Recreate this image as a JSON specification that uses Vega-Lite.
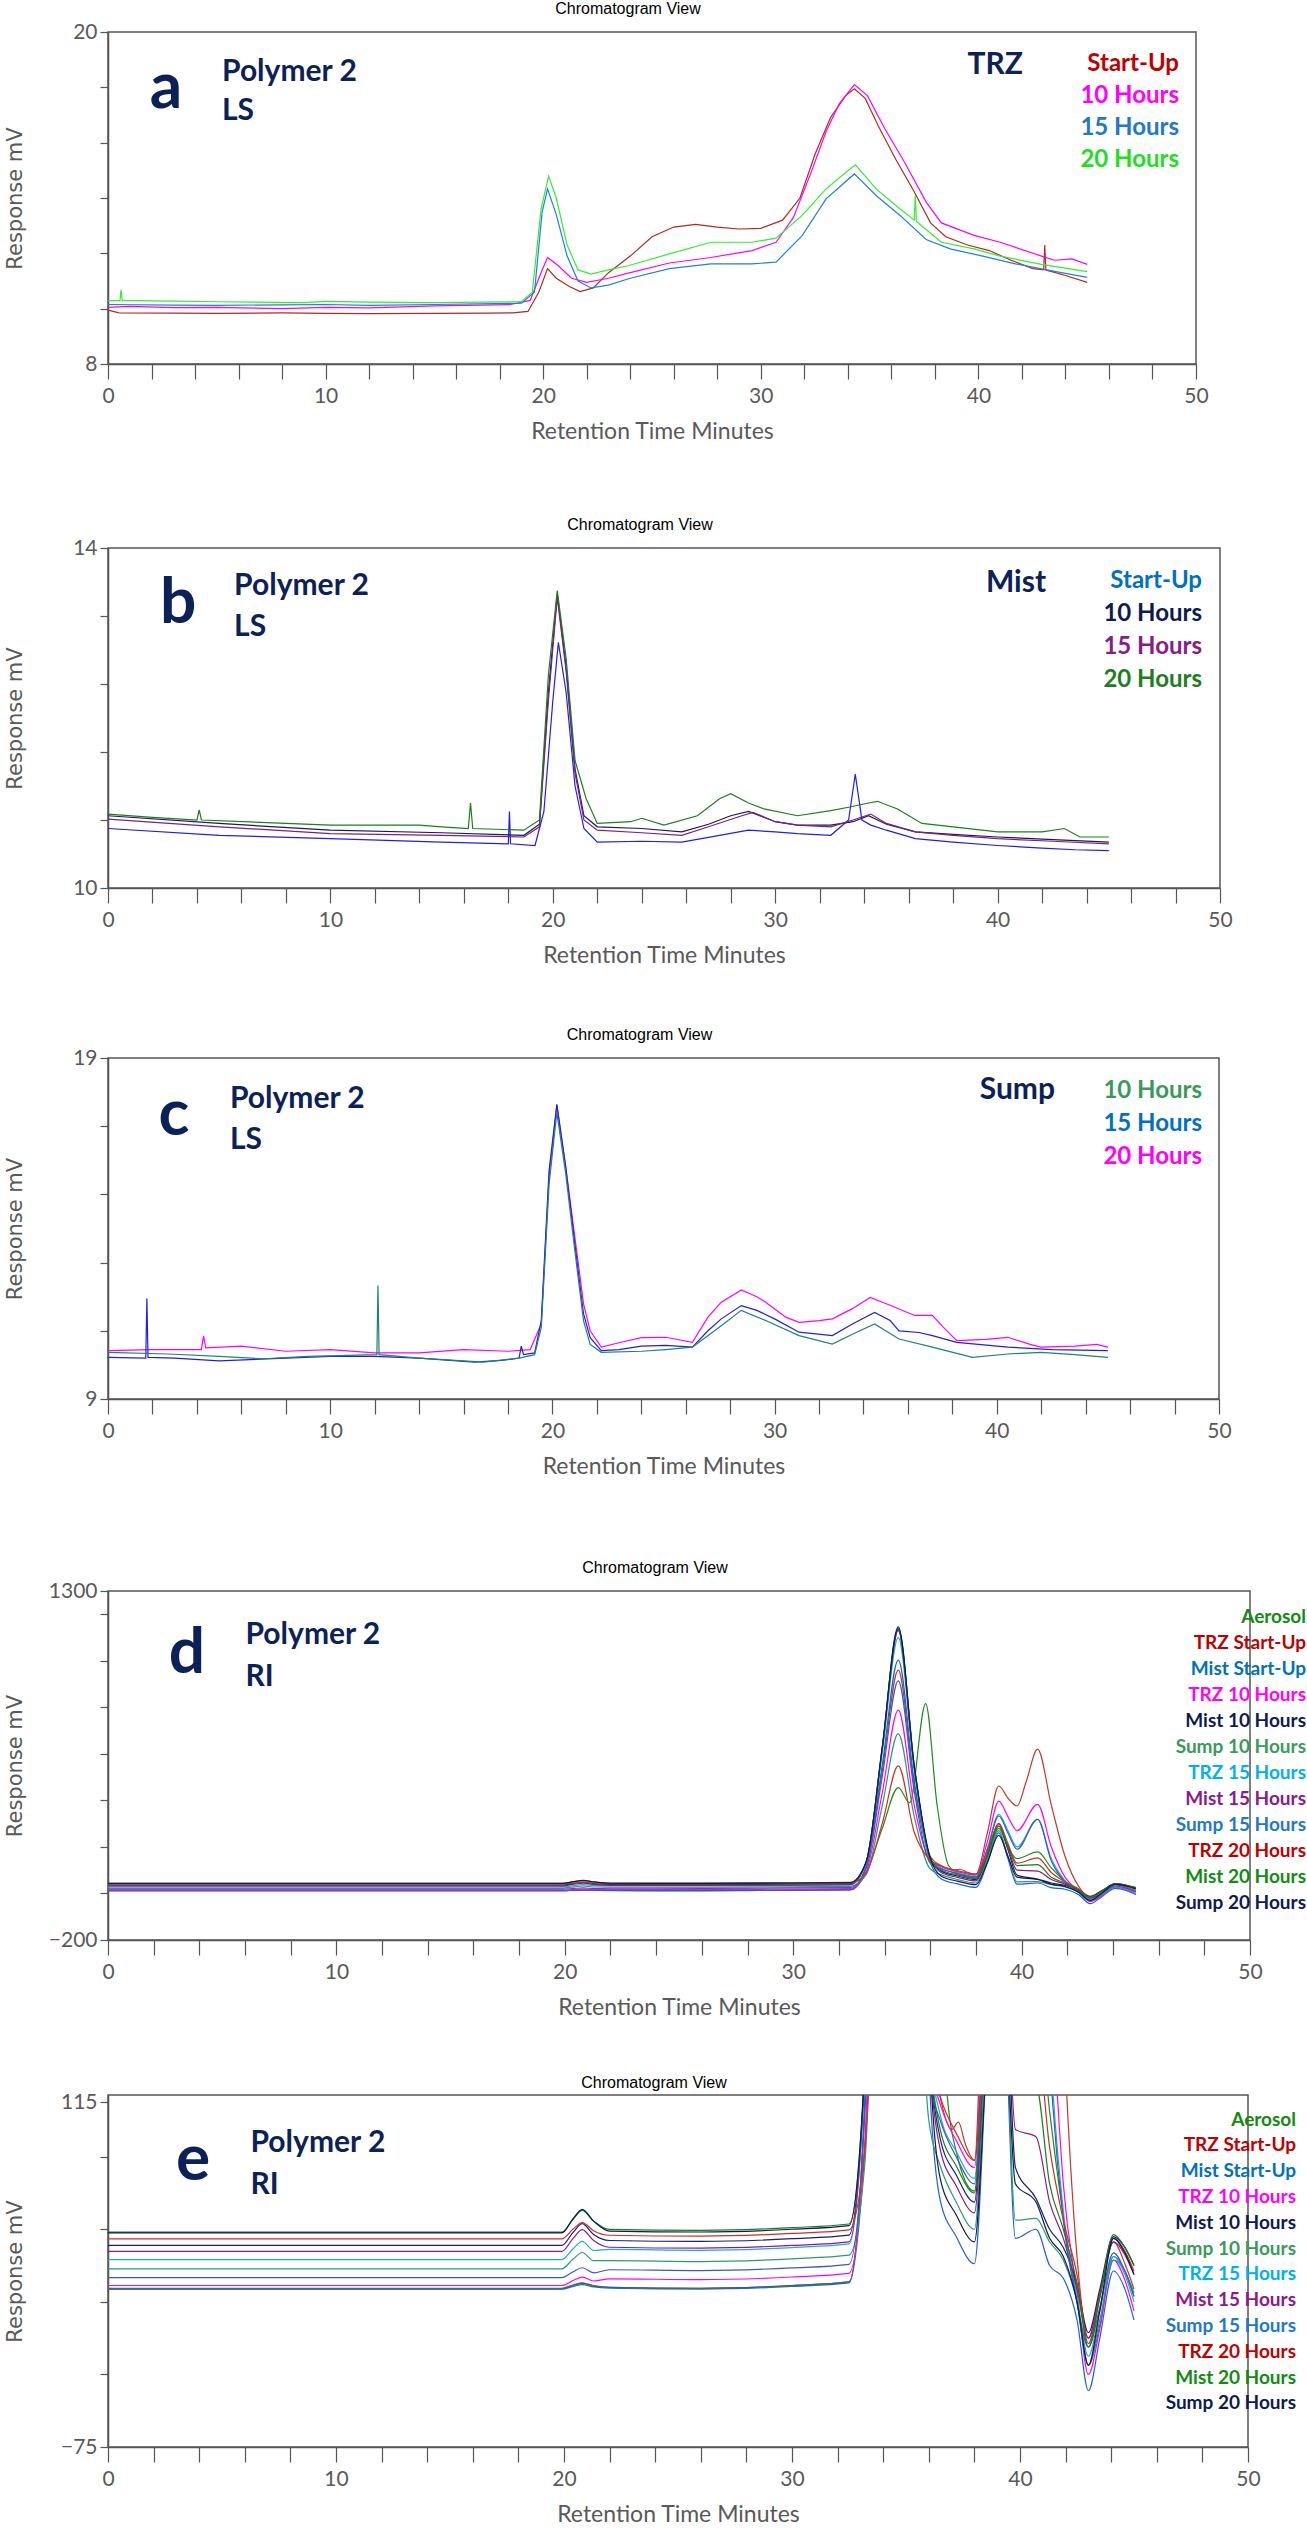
{
  "$schema": "https://vega.github.io/schema/vega-lite/v6.json",
  "background": "white",
  "padding": {"left": 3, "top": 0, "right": 0, "bottom": 0},
  "config": {
    "view": {"stroke": "#555555", "strokeWidth": 1.5},
    "axis": {"grid": false, "domainColor": "#555555", "domainWidth": 1.5, "tickColor": "#555555", "tickWidth": 1.2, "labelFont": "Lato", "labelFontSize": 21, "labelColor": "#595959", "titleFont": "Lato", "titleFontWeight": "normal", "titleColor": "#595959", "labelOverlap": false, "labelFlush": false, "format": "d"},
    "axisX": {"tickSize": 15, "labelPadding": 6, "titleFontSize": 23, "titlePadding": 14},
    "axisY": {"tickSize": 8, "labelPadding": 3, "titleFont": "DejaVu Sans", "titleFontSize": 21, "minExtent": 45, "maxExtent": 45, "titlePadding": 38},
    "title": {"font": "Liberation Sans", "fontSize": 16, "fontWeight": "normal", "color": "#000000", "offset": 4, "dx": -24, "anchor": "middle", "frame": "group"},
    "legend": {"labelFont": "Lato", "labelFontWeight": "bold", "symbolSize": 0, "symbolStrokeWidth": 0, "symbolOpacity": 0, "labelAlign": "right", "labelOffset": 0, "padding": 0, "direction": "vertical", "orient": "none", "title": null},
    "text": {"font": "Lato", "fontWeight": "bold", "color": "#0C2157", "baseline": "alphabetic"}
  },
  "datasets": {
    "a": [
      {"s":"Start-Up","t":0,"v":9.95},{"s":"Start-Up","t":0.5,"v":9.85},{"s":"Start-Up","t":3,"v":9.84},{"s":"Start-Up","t":5,"v":9.83},{"s":"Start-Up","t":8,"v":9.85},{"s":"Start-Up","t":10,"v":9.83},{"s":"Start-Up","t":12,"v":9.82},{"s":"Start-Up","t":15,"v":9.83},{"s":"Start-Up","t":17.5,"v":9.84},{"s":"Start-Up","t":18.6,"v":9.85},{"s":"Start-Up","t":19.3,"v":9.9},{"s":"Start-Up","t":19.8,"v":10.6},{"s":"Start-Up","t":20.2,"v":11.45},{"s":"Start-Up","t":20.6,"v":11.1},{"s":"Start-Up","t":21.2,"v":10.8},{"s":"Start-Up","t":21.7,"v":10.62},{"s":"Start-Up","t":22.3,"v":10.75},{"s":"Start-Up","t":23,"v":11.3},{"s":"Start-Up","t":24,"v":11.9},{"s":"Start-Up","t":25,"v":12.6},{"s":"Start-Up","t":26,"v":12.95},{"s":"Start-Up","t":27,"v":13.05},{"s":"Start-Up","t":28,"v":12.95},{"s":"Start-Up","t":29,"v":12.88},{"s":"Start-Up","t":30,"v":12.9},{"s":"Start-Up","t":31,"v":13.2},{"s":"Start-Up","t":31.8,"v":14.0},{"s":"Start-Up","t":32.5,"v":15.6},{"s":"Start-Up","t":33.2,"v":16.9},{"s":"Start-Up","t":33.9,"v":17.7},{"s":"Start-Up","t":34.3,"v":17.95},{"s":"Start-Up","t":34.8,"v":17.6},{"s":"Start-Up","t":35.4,"v":16.6},{"s":"Start-Up","t":36.2,"v":15.4},{"s":"Start-Up","t":37,"v":14.3},{"s":"Start-Up","t":37.8,"v":13.1},{"s":"Start-Up","t":38.5,"v":12.6},{"s":"Start-Up","t":39.5,"v":12.3},{"s":"Start-Up","t":40.5,"v":12.1},{"s":"Start-Up","t":41.5,"v":11.75},{"s":"Start-Up","t":42.5,"v":11.45},{"s":"Start-Up","t":43,"v":11.4},{"s":"Start-Up","t":43.05,"v":12.3},{"s":"Start-Up","t":43.1,"v":11.4},{"s":"Start-Up","t":44,"v":11.2},{"s":"Start-Up","t":45,"v":10.95},
      {"s":"10 Hours","t":0,"v":10.05},{"s":"10 Hours","t":1,"v":10.08},{"s":"10 Hours","t":3,"v":10.04},{"s":"10 Hours","t":5,"v":10.05},{"s":"10 Hours","t":8,"v":10.0},{"s":"10 Hours","t":10,"v":10.05},{"s":"10 Hours","t":12,"v":10.03},{"s":"10 Hours","t":15,"v":10.1},{"s":"10 Hours","t":18.5,"v":10.15},{"s":"10 Hours","t":19.4,"v":10.3},{"s":"10 Hours","t":19.9,"v":11.3},{"s":"10 Hours","t":20.2,"v":11.85},{"s":"10 Hours","t":20.7,"v":11.55},{"s":"10 Hours","t":21.3,"v":11.1},{"s":"10 Hours","t":22,"v":10.95},{"s":"10 Hours","t":23,"v":11.1},{"s":"10 Hours","t":24,"v":11.3},{"s":"10 Hours","t":25.8,"v":11.65},{"s":"10 Hours","t":27.7,"v":11.85},{"s":"10 Hours","t":29.6,"v":12.1},{"s":"10 Hours","t":30.7,"v":12.4},{"s":"10 Hours","t":31.5,"v":13.3},{"s":"10 Hours","t":32.3,"v":14.9},{"s":"10 Hours","t":33,"v":16.4},{"s":"10 Hours","t":33.6,"v":17.4},{"s":"10 Hours","t":34.3,"v":18.1},{"s":"10 Hours","t":34.9,"v":17.7},{"s":"10 Hours","t":35.7,"v":16.5},{"s":"10 Hours","t":36.6,"v":15.3},{"s":"10 Hours","t":37.6,"v":13.85},{"s":"10 Hours","t":38.3,"v":13.1},{"s":"10 Hours","t":39.8,"v":12.65},{"s":"10 Hours","t":41,"v":12.4},{"s":"10 Hours","t":42.9,"v":11.9},{"s":"10 Hours","t":43.5,"v":11.75},{"s":"10 Hours","t":44.3,"v":11.8},{"s":"10 Hours","t":45,"v":11.6},
      {"s":"15 Hours","t":0,"v":10.15},{"s":"15 Hours","t":3,"v":10.13},{"s":"15 Hours","t":5,"v":10.12},{"s":"15 Hours","t":8,"v":10.14},{"s":"15 Hours","t":10,"v":10.15},{"s":"15 Hours","t":12,"v":10.12},{"s":"15 Hours","t":15,"v":10.15},{"s":"15 Hours","t":19,"v":10.2},{"s":"15 Hours","t":19.6,"v":10.6},{"s":"15 Hours","t":19.95,"v":13.5},{"s":"15 Hours","t":20.2,"v":14.33},{"s":"15 Hours","t":20.6,"v":13.4},{"s":"15 Hours","t":21.1,"v":11.9},{"s":"15 Hours","t":21.6,"v":11.0},{"s":"15 Hours","t":22.2,"v":10.75},{"s":"15 Hours","t":23,"v":10.85},{"s":"15 Hours","t":24,"v":11.1},{"s":"15 Hours","t":25.8,"v":11.45},{"s":"15 Hours","t":27.7,"v":11.62},{"s":"15 Hours","t":29.6,"v":11.62},{"s":"15 Hours","t":30.7,"v":11.68},{"s":"15 Hours","t":31.9,"v":12.64},{"s":"15 Hours","t":33,"v":13.97},{"s":"15 Hours","t":34.3,"v":14.87},{"s":"15 Hours","t":35.3,"v":14.09},{"s":"15 Hours","t":36.4,"v":13.37},{"s":"15 Hours","t":37.6,"v":12.5},{"s":"15 Hours","t":38.7,"v":12.16},{"s":"15 Hours","t":40.2,"v":11.9},{"s":"15 Hours","t":41.7,"v":11.62},{"s":"15 Hours","t":43.5,"v":11.35},{"s":"15 Hours","t":45,"v":11.13},
      {"s":"20 Hours","t":0,"v":10.29},{"s":"20 Hours","t":0.55,"v":10.3},{"s":"20 Hours","t":0.6,"v":10.68},{"s":"20 Hours","t":0.65,"v":10.3},{"s":"20 Hours","t":3,"v":10.27},{"s":"20 Hours","t":5,"v":10.25},{"s":"20 Hours","t":9,"v":10.22},{"s":"20 Hours","t":10,"v":10.26},{"s":"20 Hours","t":12,"v":10.24},{"s":"20 Hours","t":15,"v":10.22},{"s":"20 Hours","t":19,"v":10.25},{"s":"20 Hours","t":19.5,"v":10.6},{"s":"20 Hours","t":19.9,"v":13.6},{"s":"20 Hours","t":20.25,"v":14.79},{"s":"20 Hours","t":20.6,"v":14.0},{"s":"20 Hours","t":21.1,"v":12.3},{"s":"20 Hours","t":21.6,"v":11.4},{"s":"20 Hours","t":22.2,"v":11.25},{"s":"20 Hours","t":23,"v":11.4},{"s":"20 Hours","t":23.9,"v":11.55},{"s":"20 Hours","t":25.8,"v":11.98},{"s":"20 Hours","t":27.7,"v":12.4},{"s":"20 Hours","t":29.6,"v":12.4},{"s":"20 Hours","t":30.7,"v":12.55},{"s":"20 Hours","t":31.9,"v":13.37},{"s":"20 Hours","t":33,"v":14.33},{"s":"20 Hours","t":34.1,"v":15.05},{"s":"20 Hours","t":34.35,"v":15.2},{"s":"20 Hours","t":35.3,"v":14.33},{"s":"20 Hours","t":36.4,"v":13.6},{"s":"20 Hours","t":37.05,"v":13.2},{"s":"20 Hours","t":37.1,"v":14.1},{"s":"20 Hours","t":37.15,"v":13.15},{"s":"20 Hours","t":38.3,"v":12.4},{"s":"20 Hours","t":39.8,"v":12.16},{"s":"20 Hours","t":41,"v":11.9},{"s":"20 Hours","t":42.9,"v":11.6},{"s":"20 Hours","t":45,"v":11.34}
    ],
    "b": [
      {"s":"Start-Up","t":0,"v":10.7},{"s":"Start-Up","t":5,"v":10.62},{"s":"Start-Up","t":10,"v":10.58},{"s":"Start-Up","t":15,"v":10.54},{"s":"Start-Up","t":18,"v":10.52},{"s":"Start-Up","t":18.05,"v":10.9},{"s":"Start-Up","t":18.1,"v":10.52},{"s":"Start-Up","t":19.2,"v":10.5},{"s":"Start-Up","t":19.6,"v":10.9},{"s":"Start-Up","t":20,"v":12.2},{"s":"Start-Up","t":20.25,"v":12.89},{"s":"Start-Up","t":20.6,"v":12.3},{"s":"Start-Up","t":21,"v":11.2},{"s":"Start-Up","t":21.4,"v":10.7},{"s":"Start-Up","t":22,"v":10.54},{"s":"Start-Up","t":24,"v":10.55},{"s":"Start-Up","t":25.8,"v":10.54},{"s":"Start-Up","t":27.5,"v":10.62},{"s":"Start-Up","t":28.8,"v":10.68},{"s":"Start-Up","t":30,"v":10.66},{"s":"Start-Up","t":31,"v":10.64},{"s":"Start-Up","t":32.5,"v":10.62},{"s":"Start-Up","t":33.3,"v":10.8},{"s":"Start-Up","t":33.6,"v":11.34},{"s":"Start-Up","t":33.9,"v":10.8},{"s":"Start-Up","t":34.3,"v":10.74},{"s":"Start-Up","t":35,"v":10.68},{"s":"Start-Up","t":36.3,"v":10.58},{"s":"Start-Up","t":38,"v":10.54},{"s":"Start-Up","t":40,"v":10.5},{"s":"Start-Up","t":42,"v":10.47},{"s":"Start-Up","t":43.5,"v":10.45},{"s":"Start-Up","t":45,"v":10.44},
      {"s":"10 Hours","t":0,"v":10.85},{"s":"10 Hours","t":5,"v":10.76},{"s":"10 Hours","t":10,"v":10.68},{"s":"10 Hours","t":15,"v":10.65},{"s":"10 Hours","t":18.7,"v":10.62},{"s":"10 Hours","t":19.4,"v":10.75},{"s":"10 Hours","t":19.8,"v":12.3},{"s":"10 Hours","t":20.2,"v":13.46},{"s":"10 Hours","t":20.6,"v":12.6},{"s":"10 Hours","t":21,"v":11.4},{"s":"10 Hours","t":21.4,"v":10.85},{"s":"10 Hours","t":22,"v":10.72},{"s":"10 Hours","t":24,"v":10.7},{"s":"10 Hours","t":25.8,"v":10.66},{"s":"10 Hours","t":27,"v":10.75},{"s":"10 Hours","t":28,"v":10.85},{"s":"10 Hours","t":28.8,"v":10.9},{"s":"10 Hours","t":30,"v":10.78},{"s":"10 Hours","t":31,"v":10.74},{"s":"10 Hours","t":32.5,"v":10.74},{"s":"10 Hours","t":33.5,"v":10.78},{"s":"10 Hours","t":34.2,"v":10.85},{"s":"10 Hours","t":35,"v":10.75},{"s":"10 Hours","t":36.3,"v":10.66},{"s":"10 Hours","t":38,"v":10.63},{"s":"10 Hours","t":40,"v":10.6},{"s":"10 Hours","t":42.5,"v":10.57},{"s":"10 Hours","t":45,"v":10.54},
      {"s":"15 Hours","t":0,"v":10.81},{"s":"15 Hours","t":5,"v":10.72},{"s":"15 Hours","t":10,"v":10.64},{"s":"15 Hours","t":15,"v":10.62},{"s":"15 Hours","t":18.7,"v":10.6},{"s":"15 Hours","t":19.4,"v":10.72},{"s":"15 Hours","t":19.8,"v":12.2},{"s":"15 Hours","t":20.2,"v":13.42},{"s":"15 Hours","t":20.6,"v":12.55},{"s":"15 Hours","t":21,"v":11.35},{"s":"15 Hours","t":21.4,"v":10.8},{"s":"15 Hours","t":22,"v":10.68},{"s":"15 Hours","t":24,"v":10.65},{"s":"15 Hours","t":25.8,"v":10.62},{"s":"15 Hours","t":27,"v":10.72},{"s":"15 Hours","t":28.5,"v":10.85},{"s":"15 Hours","t":29,"v":10.89},{"s":"15 Hours","t":30,"v":10.78},{"s":"15 Hours","t":31,"v":10.74},{"s":"15 Hours","t":32.5,"v":10.72},{"s":"15 Hours","t":33.5,"v":10.8},{"s":"15 Hours","t":34.3,"v":10.87},{"s":"15 Hours","t":35,"v":10.76},{"s":"15 Hours","t":36.3,"v":10.66},{"s":"15 Hours","t":38,"v":10.62},{"s":"15 Hours","t":40,"v":10.58},{"s":"15 Hours","t":42.5,"v":10.55},{"s":"15 Hours","t":45,"v":10.52},
      {"s":"20 Hours","t":0,"v":10.87},{"s":"20 Hours","t":2,"v":10.83},{"s":"20 Hours","t":4,"v":10.8},{"s":"20 Hours","t":4.1,"v":10.92},{"s":"20 Hours","t":4.2,"v":10.8},{"s":"20 Hours","t":10,"v":10.74},{"s":"20 Hours","t":14,"v":10.74},{"s":"20 Hours","t":15,"v":10.72},{"s":"20 Hours","t":16.2,"v":10.7},{"s":"20 Hours","t":16.3,"v":11.0},{"s":"20 Hours","t":16.4,"v":10.7},{"s":"20 Hours","t":18.7,"v":10.68},{"s":"20 Hours","t":19.4,"v":10.8},{"s":"20 Hours","t":19.8,"v":12.5},{"s":"20 Hours","t":20.2,"v":13.5},{"s":"20 Hours","t":20.6,"v":12.7},{"s":"20 Hours","t":21,"v":11.5},{"s":"20 Hours","t":21.5,"v":11.05},{"s":"20 Hours","t":22,"v":10.76},{"s":"20 Hours","t":23.5,"v":10.78},{"s":"20 Hours","t":24,"v":10.82},{"s":"20 Hours","t":25,"v":10.74},{"s":"20 Hours","t":26.5,"v":10.85},{"s":"20 Hours","t":27.5,"v":11.05},{"s":"20 Hours","t":28,"v":11.11},{"s":"20 Hours","t":28.8,"v":11.0},{"s":"20 Hours","t":29.5,"v":10.93},{"s":"20 Hours","t":31,"v":10.85},{"s":"20 Hours","t":32.5,"v":10.91},{"s":"20 Hours","t":33.3,"v":10.95},{"s":"20 Hours","t":34.2,"v":11.0},{"s":"20 Hours","t":34.6,"v":11.02},{"s":"20 Hours","t":35.5,"v":10.93},{"s":"20 Hours","t":36.6,"v":10.76},{"s":"20 Hours","t":38,"v":10.72},{"s":"20 Hours","t":40,"v":10.66},{"s":"20 Hours","t":42,"v":10.66},{"s":"20 Hours","t":43,"v":10.7},{"s":"20 Hours","t":43.7,"v":10.6},{"s":"20 Hours","t":45,"v":10.6}
    ],
    "c": [
      {"s":"20 Hours","t":0,"v":10.42},{"s":"20 Hours","t":2,"v":10.45},{"s":"20 Hours","t":4.2,"v":10.45},{"s":"20 Hours","t":4.3,"v":10.85},{"s":"20 Hours","t":4.4,"v":10.5},{"s":"20 Hours","t":6,"v":10.55},{"s":"20 Hours","t":8,"v":10.4},{"s":"20 Hours","t":10,"v":10.45},{"s":"20 Hours","t":12,"v":10.35},{"s":"20 Hours","t":14,"v":10.35},{"s":"20 Hours","t":16,"v":10.45},{"s":"20 Hours","t":18,"v":10.4},{"s":"20 Hours","t":19,"v":10.45},{"s":"20 Hours","t":19.5,"v":11.2},{"s":"20 Hours","t":19.85,"v":15.5},{"s":"20 Hours","t":20.2,"v":17.61},{"s":"20 Hours","t":20.6,"v":15.8},{"s":"20 Hours","t":21,"v":13.8},{"s":"20 Hours","t":21.4,"v":11.8},{"s":"20 Hours","t":21.7,"v":11.0},{"s":"20 Hours","t":22.2,"v":10.52},{"s":"20 Hours","t":23,"v":10.65},{"s":"20 Hours","t":24,"v":10.8},{"s":"20 Hours","t":25.1,"v":10.81},{"s":"20 Hours","t":26.3,"v":10.66},{"s":"20 Hours","t":27,"v":11.4},{"s":"20 Hours","t":27.6,"v":11.84},{"s":"20 Hours","t":28.5,"v":12.2},{"s":"20 Hours","t":29.2,"v":12.0},{"s":"20 Hours","t":29.6,"v":11.84},{"s":"20 Hours","t":30.5,"v":11.4},{"s":"20 Hours","t":31.1,"v":11.25},{"s":"20 Hours","t":32,"v":11.3},{"s":"20 Hours","t":32.6,"v":11.35},{"s":"20 Hours","t":33.5,"v":11.65},{"s":"20 Hours","t":34.3,"v":11.98},{"s":"20 Hours","t":35,"v":11.8},{"s":"20 Hours","t":35.6,"v":11.64},{"s":"20 Hours","t":36.3,"v":11.45},{"s":"20 Hours","t":37.1,"v":11.45},{"s":"20 Hours","t":37.6,"v":11.1},{"s":"20 Hours","t":38.2,"v":10.71},{"s":"20 Hours","t":39.5,"v":10.75},{"s":"20 Hours","t":40.5,"v":10.81},{"s":"20 Hours","t":41.5,"v":10.6},{"s":"20 Hours","t":42,"v":10.52},{"s":"20 Hours","t":43.5,"v":10.55},{"s":"20 Hours","t":44.5,"v":10.6},{"s":"20 Hours","t":45,"v":10.52},
      {"s":"15 Hours","t":0,"v":10.22},{"s":"15 Hours","t":1.7,"v":10.2},{"s":"15 Hours","t":1.75,"v":11.95},{"s":"15 Hours","t":1.8,"v":10.22},{"s":"15 Hours","t":3,"v":10.2},{"s":"15 Hours","t":5,"v":10.12},{"s":"15 Hours","t":8,"v":10.2},{"s":"15 Hours","t":10,"v":10.25},{"s":"15 Hours","t":12,"v":10.25},{"s":"15 Hours","t":14,"v":10.2},{"s":"15 Hours","t":16.5,"v":10.08},{"s":"15 Hours","t":17.7,"v":10.13},{"s":"15 Hours","t":18.5,"v":10.2},{"s":"15 Hours","t":18.6,"v":10.55},{"s":"15 Hours","t":18.7,"v":10.3},{"s":"15 Hours","t":19.2,"v":10.35},{"s":"15 Hours","t":19.5,"v":11.3},{"s":"15 Hours","t":19.85,"v":15.7},{"s":"15 Hours","t":20.2,"v":17.64},{"s":"15 Hours","t":20.6,"v":15.8},{"s":"15 Hours","t":21,"v":13.6},{"s":"15 Hours","t":21.4,"v":11.5},{"s":"15 Hours","t":21.7,"v":10.8},{"s":"15 Hours","t":22.2,"v":10.42},{"s":"15 Hours","t":23,"v":10.45},{"s":"15 Hours","t":24,"v":10.55},{"s":"15 Hours","t":25.1,"v":10.57},{"s":"15 Hours","t":26.3,"v":10.52},{"s":"15 Hours","t":27,"v":11.0},{"s":"15 Hours","t":27.6,"v":11.35},{"s":"15 Hours","t":28.5,"v":11.74},{"s":"15 Hours","t":29.2,"v":11.6},{"s":"15 Hours","t":30,"v":11.35},{"s":"15 Hours","t":31.1,"v":10.96},{"s":"15 Hours","t":32.6,"v":10.86},{"s":"15 Hours","t":33.5,"v":11.2},{"s":"15 Hours","t":34.5,"v":11.54},{"s":"15 Hours","t":35.2,"v":11.3},{"s":"15 Hours","t":35.6,"v":11.0},{"s":"15 Hours","t":36.5,"v":10.95},{"s":"15 Hours","t":37.1,"v":10.86},{"s":"15 Hours","t":38.2,"v":10.66},{"s":"15 Hours","t":40.5,"v":10.52},{"s":"15 Hours","t":42.5,"v":10.45},{"s":"15 Hours","t":45,"v":10.42},
      {"s":"10 Hours","t":0,"v":10.37},{"s":"10 Hours","t":2.7,"v":10.32},{"s":"10 Hours","t":5,"v":10.25},{"s":"10 Hours","t":7,"v":10.18},{"s":"10 Hours","t":9,"v":10.25},{"s":"10 Hours","t":12.1,"v":10.3},{"s":"10 Hours","t":12.15,"v":12.33},{"s":"10 Hours","t":12.2,"v":10.3},{"s":"10 Hours","t":14,"v":10.2},{"s":"10 Hours","t":16.9,"v":10.08},{"s":"10 Hours","t":18.5,"v":10.2},{"s":"10 Hours","t":19.2,"v":10.3},{"s":"10 Hours","t":19.5,"v":11.1},{"s":"10 Hours","t":19.85,"v":15.3},{"s":"10 Hours","t":20.2,"v":17.4},{"s":"10 Hours","t":20.6,"v":15.6},{"s":"10 Hours","t":21,"v":13.4},{"s":"10 Hours","t":21.4,"v":11.3},{"s":"10 Hours","t":21.7,"v":10.6},{"s":"10 Hours","t":22.2,"v":10.37},{"s":"10 Hours","t":24,"v":10.4},{"s":"10 Hours","t":25.1,"v":10.45},{"s":"10 Hours","t":26.3,"v":10.52},{"s":"10 Hours","t":27.6,"v":11.15},{"s":"10 Hours","t":28.5,"v":11.6},{"s":"10 Hours","t":29.6,"v":11.3},{"s":"10 Hours","t":31.1,"v":10.86},{"s":"10 Hours","t":32.6,"v":10.61},{"s":"10 Hours","t":33.5,"v":10.9},{"s":"10 Hours","t":34.5,"v":11.2},{"s":"10 Hours","t":35.6,"v":10.76},{"s":"10 Hours","t":37.1,"v":10.52},{"s":"10 Hours","t":38.9,"v":10.22},{"s":"10 Hours","t":40.5,"v":10.32},{"s":"10 Hours","t":42,"v":10.37},{"s":"10 Hours","t":43.5,"v":10.3},{"s":"10 Hours","t":45,"v":10.22}
    ],
    "ri": [
      {"s":"Aerosol","t":0,"v":12},{"s":"Aerosol","t":19.9,"v":12},{"s":"Aerosol","t":20.4,"v":13.5},{"s":"Aerosol","t":20.8,"v":14.5},{"s":"Aerosol","t":21.3,"v":13.2},{"s":"Aerosol","t":22,"v":12.5},{"s":"Aerosol","t":26,"v":12},{"s":"Aerosol","t":30,"v":13.5},{"s":"Aerosol","t":32.5,"v":15.5},{"s":"Aerosol","t":33.2,"v":90},{"s":"Aerosol","t":33.9,"v":280},{"s":"Aerosol","t":34.6,"v":455},{"s":"Aerosol","t":35.1,"v":390},{"s":"Aerosol","t":35.8,"v":816},{"s":"Aerosol","t":36.3,"v":380},{"s":"Aerosol","t":36.8,"v":120},{"s":"Aerosol","t":37.2,"v":88},{"s":"Aerosol","t":38,"v":66},{"s":"Aerosol","t":38.5,"v":160},{"s":"Aerosol","t":39,"v":280},{"s":"Aerosol","t":39.4,"v":200},{"s":"Aerosol","t":39.8,"v":150},{"s":"Aerosol","t":40.7,"v":179},{"s":"Aerosol","t":41.3,"v":110},{"s":"Aerosol","t":41.9,"v":52},{"s":"Aerosol","t":42.5,"v":5},{"s":"Aerosol","t":43,"v":-30},{"s":"Aerosol","t":43.5,"v":-8},{"s":"Aerosol","t":44.1,"v":30},{"s":"Aerosol","t":44.6,"v":22},{"s":"Aerosol","t":45,"v":8},
      {"s":"TRZ Start-Up","t":0,"v":12.5},{"s":"TRZ Start-Up","t":19.9,"v":12.5},{"s":"TRZ Start-Up","t":20.4,"v":14.3},{"s":"TRZ Start-Up","t":20.8,"v":15.5},{"s":"TRZ Start-Up","t":21.3,"v":14},{"s":"TRZ Start-Up","t":22,"v":13},{"s":"TRZ Start-Up","t":26,"v":12.5},{"s":"TRZ Start-Up","t":30,"v":14},{"s":"TRZ Start-Up","t":32.5,"v":16},{"s":"TRZ Start-Up","t":33.2,"v":115},{"s":"TRZ Start-Up","t":33.9,"v":528},{"s":"TRZ Start-Up","t":34.6,"v":960},{"s":"TRZ Start-Up","t":35.3,"v":461},{"s":"TRZ Start-Up","t":36,"v":160},{"s":"TRZ Start-Up","t":36.5,"v":118},{"s":"TRZ Start-Up","t":37,"v":100},{"s":"TRZ Start-Up","t":37.3,"v":104},{"s":"TRZ Start-Up","t":37.6,"v":92},{"s":"TRZ Start-Up","t":38,"v":83},{"s":"TRZ Start-Up","t":38.5,"v":260},{"s":"TRZ Start-Up","t":39,"v":462},{"s":"TRZ Start-Up","t":39.4,"v":410},{"s":"TRZ Start-Up","t":39.8,"v":376},{"s":"TRZ Start-Up","t":40.2,"v":480},{"s":"TRZ Start-Up","t":40.7,"v":620},{"s":"TRZ Start-Up","t":41.3,"v":380},{"s":"TRZ Start-Up","t":41.9,"v":160},{"s":"TRZ Start-Up","t":42.5,"v":30},{"s":"TRZ Start-Up","t":43,"v":-15},{"s":"TRZ Start-Up","t":43.5,"v":10},{"s":"TRZ Start-Up","t":44.1,"v":38},{"s":"TRZ Start-Up","t":44.6,"v":26},{"s":"TRZ Start-Up","t":45,"v":12},
      {"s":"Mist Start-Up","t":0,"v":12.2},{"s":"Mist Start-Up","t":19.9,"v":12.2},{"s":"Mist Start-Up","t":20.4,"v":14},{"s":"Mist Start-Up","t":20.8,"v":15.2},{"s":"Mist Start-Up","t":21.3,"v":13.7},{"s":"Mist Start-Up","t":22,"v":13},{"s":"Mist Start-Up","t":26,"v":12.5},{"s":"Mist Start-Up","t":30,"v":14},{"s":"Mist Start-Up","t":32.5,"v":16},{"s":"Mist Start-Up","t":33.2,"v":120},{"s":"Mist Start-Up","t":33.9,"v":552},{"s":"Mist Start-Up","t":34.6,"v":1003},{"s":"Mist Start-Up","t":35.3,"v":481},{"s":"Mist Start-Up","t":36,"v":135},{"s":"Mist Start-Up","t":36.5,"v":61},{"s":"Mist Start-Up","t":37.2,"v":41},{"s":"Mist Start-Up","t":38,"v":26},{"s":"Mist Start-Up","t":38.5,"v":131},{"s":"Mist Start-Up","t":39,"v":260},{"s":"Mist Start-Up","t":39.4,"v":150},{"s":"Mist Start-Up","t":39.8,"v":40},{"s":"Mist Start-Up","t":40.7,"v":45},{"s":"Mist Start-Up","t":41.3,"v":25},{"s":"Mist Start-Up","t":41.9,"v":18},{"s":"Mist Start-Up","t":42.5,"v":-5},{"s":"Mist Start-Up","t":43,"v":-44},{"s":"Mist Start-Up","t":43.5,"v":-15},{"s":"Mist Start-Up","t":44.1,"v":22},{"s":"Mist Start-Up","t":44.6,"v":12},{"s":"Mist Start-Up","t":45,"v":-5},
      {"s":"TRZ 10 Hours","t":0,"v":14},{"s":"TRZ 10 Hours","t":19.9,"v":14},{"s":"TRZ 10 Hours","t":20.4,"v":16.8},{"s":"TRZ 10 Hours","t":20.8,"v":18.6},{"s":"TRZ 10 Hours","t":21.3,"v":16.5},{"s":"TRZ 10 Hours","t":22,"v":17.7},{"s":"TRZ 10 Hours","t":26,"v":17.2},{"s":"TRZ 10 Hours","t":30,"v":18.7},{"s":"TRZ 10 Hours","t":32.5,"v":20.7},{"s":"TRZ 10 Hours","t":33.2,"v":95},{"s":"TRZ 10 Hours","t":33.9,"v":433},{"s":"TRZ 10 Hours","t":34.6,"v":788},{"s":"TRZ 10 Hours","t":35.3,"v":378},{"s":"TRZ 10 Hours","t":36,"v":140},{"s":"TRZ 10 Hours","t":36.5,"v":114},{"s":"TRZ 10 Hours","t":37.2,"v":94},{"s":"TRZ 10 Hours","t":38,"v":79},{"s":"TRZ 10 Hours","t":38.5,"v":222},{"s":"TRZ 10 Hours","t":39,"v":397},{"s":"TRZ 10 Hours","t":39.4,"v":330},{"s":"TRZ 10 Hours","t":39.8,"v":270},{"s":"TRZ 10 Hours","t":40.7,"v":383},{"s":"TRZ 10 Hours","t":41.3,"v":200},{"s":"TRZ 10 Hours","t":41.9,"v":70},{"s":"TRZ 10 Hours","t":42.5,"v":10},{"s":"TRZ 10 Hours","t":43,"v":-35},{"s":"TRZ 10 Hours","t":43.5,"v":-10},{"s":"TRZ 10 Hours","t":44.1,"v":28},{"s":"TRZ 10 Hours","t":44.6,"v":17},{"s":"TRZ 10 Hours","t":45,"v":0},
      {"s":"Mist 10 Hours","t":0,"v":36.1},{"s":"Mist 10 Hours","t":19.9,"v":36.1},{"s":"Mist 10 Hours","t":20.4,"v":43.3},{"s":"Mist 10 Hours","t":20.8,"v":48.1},{"s":"Mist 10 Hours","t":21.3,"v":42.1},{"s":"Mist 10 Hours","t":22,"v":38.8},{"s":"Mist 10 Hours","t":26,"v":38.3},{"s":"Mist 10 Hours","t":30,"v":39.8},{"s":"Mist 10 Hours","t":32.5,"v":41.8},{"s":"Mist 10 Hours","t":33.2,"v":136},{"s":"Mist 10 Hours","t":33.9,"v":624},{"s":"Mist 10 Hours","t":34.6,"v":1135},{"s":"Mist 10 Hours","t":35.3,"v":545},{"s":"Mist 10 Hours","t":36,"v":151},{"s":"Mist 10 Hours","t":36.5,"v":95},{"s":"Mist 10 Hours","t":37.2,"v":75},{"s":"Mist 10 Hours","t":38,"v":60},{"s":"Mist 10 Hours","t":38.5,"v":168},{"s":"Mist 10 Hours","t":39,"v":300},{"s":"Mist 10 Hours","t":39.4,"v":190},{"s":"Mist 10 Hours","t":39.8,"v":79},{"s":"Mist 10 Hours","t":40.7,"v":62},{"s":"Mist 10 Hours","t":41.3,"v":45},{"s":"Mist 10 Hours","t":41.9,"v":35},{"s":"Mist 10 Hours","t":42.5,"v":15},{"s":"Mist 10 Hours","t":43,"v":-12},{"s":"Mist 10 Hours","t":43.5,"v":12},{"s":"Mist 10 Hours","t":44.1,"v":41},{"s":"Mist 10 Hours","t":44.6,"v":35},{"s":"Mist 10 Hours","t":45,"v":25},
      {"s":"Sump 10 Hours","t":0,"v":23.2},{"s":"Sump 10 Hours","t":19.9,"v":23.2},{"s":"Sump 10 Hours","t":20.4,"v":28.6},{"s":"Sump 10 Hours","t":20.8,"v":32.2},{"s":"Sump 10 Hours","t":21.3,"v":27.7},{"s":"Sump 10 Hours","t":22,"v":27.7},{"s":"Sump 10 Hours","t":26,"v":27.2},{"s":"Sump 10 Hours","t":30,"v":28.7},{"s":"Sump 10 Hours","t":32.5,"v":30.7},{"s":"Sump 10 Hours","t":33.2,"v":82},{"s":"Sump 10 Hours","t":33.9,"v":378},{"s":"Sump 10 Hours","t":34.6,"v":687},{"s":"Sump 10 Hours","t":35.3,"v":330},{"s":"Sump 10 Hours","t":36,"v":105},{"s":"Sump 10 Hours","t":36.5,"v":80},{"s":"Sump 10 Hours","t":37.2,"v":60},{"s":"Sump 10 Hours","t":38,"v":45},{"s":"Sump 10 Hours","t":38.5,"v":146},{"s":"Sump 10 Hours","t":39,"v":270},{"s":"Sump 10 Hours","t":39.4,"v":160},{"s":"Sump 10 Hours","t":39.8,"v":50},{"s":"Sump 10 Hours","t":40.7,"v":51},{"s":"Sump 10 Hours","t":41.3,"v":38},{"s":"Sump 10 Hours","t":41.9,"v":28},{"s":"Sump 10 Hours","t":42.5,"v":5},{"s":"Sump 10 Hours","t":43,"v":-30},{"s":"Sump 10 Hours","t":43.5,"v":-5},{"s":"Sump 10 Hours","t":44.1,"v":28},{"s":"Sump 10 Hours","t":44.6,"v":22},{"s":"Sump 10 Hours","t":45,"v":10},
      {"s":"TRZ 15 Hours","t":0,"v":28.3},{"s":"TRZ 15 Hours","t":19.9,"v":28.3},{"s":"TRZ 15 Hours","t":20.4,"v":34.3},{"s":"TRZ 15 Hours","t":20.8,"v":38.3},{"s":"TRZ 15 Hours","t":21.3,"v":33.3},{"s":"TRZ 15 Hours","t":22,"v":33.9},{"s":"TRZ 15 Hours","t":26,"v":33.4},{"s":"TRZ 15 Hours","t":30,"v":34.9},{"s":"TRZ 15 Hours","t":32.5,"v":36.9},{"s":"TRZ 15 Hours","t":33.2,"v":132},{"s":"TRZ 15 Hours","t":33.9,"v":605},{"s":"TRZ 15 Hours","t":34.6,"v":1100},{"s":"TRZ 15 Hours","t":35.3,"v":528},{"s":"TRZ 15 Hours","t":36,"v":147},{"s":"TRZ 15 Hours","t":36.5,"v":108},{"s":"TRZ 15 Hours","t":37.2,"v":88},{"s":"TRZ 15 Hours","t":38,"v":73},{"s":"TRZ 15 Hours","t":38.5,"v":193},{"s":"TRZ 15 Hours","t":39,"v":340},{"s":"TRZ 15 Hours","t":39.4,"v":270},{"s":"TRZ 15 Hours","t":39.8,"v":200},{"s":"TRZ 15 Hours","t":40.7,"v":320},{"s":"TRZ 15 Hours","t":41.3,"v":150},{"s":"TRZ 15 Hours","t":41.9,"v":55},{"s":"TRZ 15 Hours","t":42.5,"v":8},{"s":"TRZ 15 Hours","t":43,"v":-25},{"s":"TRZ 15 Hours","t":43.5,"v":0},{"s":"TRZ 15 Hours","t":44.1,"v":30},{"s":"TRZ 15 Hours","t":44.6,"v":20},{"s":"TRZ 15 Hours","t":45,"v":5},
      {"s":"Mist 15 Hours","t":0,"v":32.8},{"s":"Mist 15 Hours","t":19.9,"v":32.8},{"s":"Mist 15 Hours","t":20.4,"v":40},{"s":"Mist 15 Hours","t":20.8,"v":44.8},{"s":"Mist 15 Hours","t":21.3,"v":38.8},{"s":"Mist 15 Hours","t":22,"v":35.1},{"s":"Mist 15 Hours","t":26,"v":34.6},{"s":"Mist 15 Hours","t":30,"v":36.1},{"s":"Mist 15 Hours","t":32.5,"v":38.1},{"s":"Mist 15 Hours","t":33.2,"v":136},{"s":"Mist 15 Hours","t":33.9,"v":622},{"s":"Mist 15 Hours","t":34.6,"v":1130},{"s":"Mist 15 Hours","t":35.3,"v":542},{"s":"Mist 15 Hours","t":36,"v":150},{"s":"Mist 15 Hours","t":36.5,"v":89},{"s":"Mist 15 Hours","t":37.2,"v":69},{"s":"Mist 15 Hours","t":38,"v":54},{"s":"Mist 15 Hours","t":38.5,"v":160},{"s":"Mist 15 Hours","t":39,"v":290},{"s":"Mist 15 Hours","t":39.4,"v":195},{"s":"Mist 15 Hours","t":39.8,"v":100},{"s":"Mist 15 Hours","t":40.7,"v":96},{"s":"Mist 15 Hours","t":41.3,"v":60},{"s":"Mist 15 Hours","t":41.9,"v":40},{"s":"Mist 15 Hours","t":42.5,"v":12},{"s":"Mist 15 Hours","t":43,"v":-15},{"s":"Mist 15 Hours","t":43.5,"v":8},{"s":"Mist 15 Hours","t":44.1,"v":38},{"s":"Mist 15 Hours","t":44.6,"v":31},{"s":"Mist 15 Hours","t":45,"v":20},
      {"s":"Sump 15 Hours","t":0,"v":18.3},{"s":"Sump 15 Hours","t":19.9,"v":18.3},{"s":"Sump 15 Hours","t":20.4,"v":21.6},{"s":"Sump 15 Hours","t":20.8,"v":23.8},{"s":"Sump 15 Hours","t":21.3,"v":21},{"s":"Sump 15 Hours","t":22,"v":22.7},{"s":"Sump 15 Hours","t":26,"v":22.2},{"s":"Sump 15 Hours","t":30,"v":23.7},{"s":"Sump 15 Hours","t":32.5,"v":25.7},{"s":"Sump 15 Hours","t":33.2,"v":110},{"s":"Sump 15 Hours","t":33.9,"v":503},{"s":"Sump 15 Hours","t":34.6,"v":914},{"s":"Sump 15 Hours","t":35.3,"v":439},{"s":"Sump 15 Hours","t":36,"v":130},{"s":"Sump 15 Hours","t":36.5,"v":105},{"s":"Sump 15 Hours","t":37.2,"v":85},{"s":"Sump 15 Hours","t":38,"v":70},{"s":"Sump 15 Hours","t":38.5,"v":188},{"s":"Sump 15 Hours","t":39,"v":333},{"s":"Sump 15 Hours","t":39.4,"v":260},{"s":"Sump 15 Hours","t":39.8,"v":190},{"s":"Sump 15 Hours","t":40.7,"v":318},{"s":"Sump 15 Hours","t":41.3,"v":140},{"s":"Sump 15 Hours","t":41.9,"v":50},{"s":"Sump 15 Hours","t":42.5,"v":5},{"s":"Sump 15 Hours","t":43,"v":-20},{"s":"Sump 15 Hours","t":43.5,"v":2},{"s":"Sump 15 Hours","t":44.1,"v":32},{"s":"Sump 15 Hours","t":44.6,"v":22},{"s":"Sump 15 Hours","t":45,"v":8},
      {"s":"TRZ 20 Hours","t":0,"v":39.7},{"s":"TRZ 20 Hours","t":19.9,"v":39.7},{"s":"TRZ 20 Hours","t":20.4,"v":45.1},{"s":"TRZ 20 Hours","t":20.8,"v":48.7},{"s":"TRZ 20 Hours","t":21.3,"v":44.2},{"s":"TRZ 20 Hours","t":22,"v":41.7},{"s":"TRZ 20 Hours","t":26,"v":41.2},{"s":"TRZ 20 Hours","t":30,"v":42.7},{"s":"TRZ 20 Hours","t":32.5,"v":44.7},{"s":"TRZ 20 Hours","t":33.2,"v":90},{"s":"TRZ 20 Hours","t":33.9,"v":301},{"s":"TRZ 20 Hours","t":34.6,"v":548},{"s":"TRZ 20 Hours","t":35.3,"v":263},{"s":"TRZ 20 Hours","t":36,"v":143},{"s":"TRZ 20 Hours","t":36.5,"v":118},{"s":"TRZ 20 Hours","t":37.2,"v":98},{"s":"TRZ 20 Hours","t":38,"v":83},{"s":"TRZ 20 Hours","t":38.5,"v":181},{"s":"TRZ 20 Hours","t":39,"v":300},{"s":"TRZ 20 Hours","t":39.4,"v":215},{"s":"TRZ 20 Hours","t":39.8,"v":130},{"s":"TRZ 20 Hours","t":40.7,"v":153},{"s":"TRZ 20 Hours","t":41.3,"v":90},{"s":"TRZ 20 Hours","t":41.9,"v":50},{"s":"TRZ 20 Hours","t":42.5,"v":20},{"s":"TRZ 20 Hours","t":43,"v":-18},{"s":"TRZ 20 Hours","t":43.5,"v":8},{"s":"TRZ 20 Hours","t":44.1,"v":40},{"s":"TRZ 20 Hours","t":44.6,"v":33},{"s":"TRZ 20 Hours","t":45,"v":22},
      {"s":"Mist 20 Hours","t":0,"v":43.4},{"s":"Mist 20 Hours","t":19.9,"v":43.4},{"s":"Mist 20 Hours","t":20.4,"v":50.6},{"s":"Mist 20 Hours","t":20.8,"v":55.4},{"s":"Mist 20 Hours","t":21.3,"v":49.4},{"s":"Mist 20 Hours","t":22,"v":44.9},{"s":"Mist 20 Hours","t":26,"v":44.4},{"s":"Mist 20 Hours","t":30,"v":45.9},{"s":"Mist 20 Hours","t":32.5,"v":47.9},{"s":"Mist 20 Hours","t":33.2,"v":137},{"s":"Mist 20 Hours","t":33.9,"v":627},{"s":"Mist 20 Hours","t":34.6,"v":1140},{"s":"Mist 20 Hours","t":35.3,"v":547},{"s":"Mist 20 Hours","t":36,"v":152},{"s":"Mist 20 Hours","t":36.5,"v":100},{"s":"Mist 20 Hours","t":37.2,"v":80},{"s":"Mist 20 Hours","t":38,"v":65},{"s":"Mist 20 Hours","t":38.5,"v":166},{"s":"Mist 20 Hours","t":39,"v":290},{"s":"Mist 20 Hours","t":39.4,"v":205},{"s":"Mist 20 Hours","t":39.8,"v":120},{"s":"Mist 20 Hours","t":40.7,"v":124},{"s":"Mist 20 Hours","t":41.3,"v":70},{"s":"Mist 20 Hours","t":41.9,"v":45},{"s":"Mist 20 Hours","t":42.5,"v":15},{"s":"Mist 20 Hours","t":43,"v":-20},{"s":"Mist 20 Hours","t":43.5,"v":7},{"s":"Mist 20 Hours","t":44.1,"v":42},{"s":"Mist 20 Hours","t":44.6,"v":35},{"s":"Mist 20 Hours","t":45,"v":25},
      {"s":"Sump 20 Hours","t":0,"v":43},{"s":"Sump 20 Hours","t":19.9,"v":43},{"s":"Sump 20 Hours","t":20.4,"v":50.8},{"s":"Sump 20 Hours","t":20.8,"v":56},{"s":"Sump 20 Hours","t":21.3,"v":49.5},{"s":"Sump 20 Hours","t":22,"v":44},{"s":"Sump 20 Hours","t":26,"v":43.5},{"s":"Sump 20 Hours","t":30,"v":45},{"s":"Sump 20 Hours","t":32.5,"v":47},{"s":"Sump 20 Hours","t":33.2,"v":138},{"s":"Sump 20 Hours","t":33.9,"v":630},{"s":"Sump 20 Hours","t":34.6,"v":1146},{"s":"Sump 20 Hours","t":35.3,"v":550},{"s":"Sump 20 Hours","t":36,"v":153},{"s":"Sump 20 Hours","t":36.5,"v":73},{"s":"Sump 20 Hours","t":37.2,"v":53},{"s":"Sump 20 Hours","t":38,"v":38},{"s":"Sump 20 Hours","t":38.5,"v":133},{"s":"Sump 20 Hours","t":39,"v":250},{"s":"Sump 20 Hours","t":39.4,"v":160},{"s":"Sump 20 Hours","t":39.8,"v":70},{"s":"Sump 20 Hours","t":40.7,"v":60},{"s":"Sump 20 Hours","t":41.3,"v":40},{"s":"Sump 20 Hours","t":41.9,"v":30},{"s":"Sump 20 Hours","t":42.5,"v":5},{"s":"Sump 20 Hours","t":43,"v":-30},{"s":"Sump 20 Hours","t":43.5,"v":0},{"s":"Sump 20 Hours","t":44.1,"v":40},{"s":"Sump 20 Hours","t":44.6,"v":32},{"s":"Sump 20 Hours","t":45,"v":20}
    ]
  },
  "columns": 1,
  "align": "none",
  "spacing": 80,
  "resolve": {"scale": {"color": "independent"}, "legend": {"color": "independent"}},
  "concat": [
    {
      "columns": 1,
      "align": "none",
      "spacing": 58,
      "resolve": {"scale": {"color": "independent"}, "legend": {"color": "independent"}},
      "concat": [
        {
          "columns": 1,
          "align": "none",
          "spacing": 72,
          "resolve": {"scale": {"color": "independent"}, "legend": {"color": "independent"}},
          "concat": [
            {
              "width": 1088, "height": 332,
              "title": {"text": "Chromatogram View", "offset": 4},
              "layer": [
                {
                  "data": {"name": "a"},
                  "mark": {"type": "line", "strokeWidth": 1.2, "clip": true},
                  "encoding": {
                    "x": {"field": "t", "type": "quantitative", "scale": {"domain": [0, 50], "nice": false}, "axis": {"title": "Retention Time Minutes", "labelOverlap": false, "values": [0,1,2,3,4,5,6,7,8,9,10,11,12,13,14,15,16,17,18,19,20,21,22,23,24,25,26,27,28,29,30,31,32,33,34,35,36,37,38,39,40,41,42,43,44,45,46,47,48,49,50], "labelExpr": "datum.value % 10 == 0 ? datum.label : ''"}},
                    "y": {"field": "v", "type": "quantitative", "scale": {"domain": [8, 20], "nice": false, "zero": false}, "axis": {"title": "Response mV", "labelOverlap": false, "values": [8,9,10,11,12,13,14,15,16,17,18,19,20], "labelExpr": "datum.value == 8 || datum.value == 20 ? datum.label : ''"}},
                    "color": {"field": "s", "type": "nominal", "scale": {"domain": ["Start-Up", "10 Hours", "15 Hours", "20 Hours"], "range": ["#B22A1E", "#FF00FF", "#1F7FE0", "#33EE33"]},
                      "legend": {"legendX": 1047, "legendY": 19.6, "labelFontSize": 24, "rowPadding": 8,
                        "labelColor": {"expr": "['#C00000','#FF00FF','#1F78C8','#22DD22'][indexof(['Start-Up','10 Hours','15 Hours','20 Hours'], datum.value)]"}}}
                  }
                },
                {"data": {"values": [{}]}, "mark": {"type": "text", "fontSize": 64, "align": "center"}, "encoding": {"x": {"datum": 2.67}, "y": {"datum": 17.25}, "text": {"value": "a"}}},
                {"data": {"values": [{}]}, "mark": {"type": "text", "fontSize": 30, "align": "left"}, "encoding": {"x": {"datum": 5.24}, "y": {"datum": 18.23}, "text": {"value": "Polymer 2"}}},
                {"data": {"values": [{}]}, "mark": {"type": "text", "fontSize": 30, "align": "left"}, "encoding": {"x": {"datum": 5.24}, "y": {"datum": 16.82}, "text": {"value": "LS"}}},
                {"data": {"values": [{}]}, "mark": {"type": "text", "fontSize": 30, "align": "right"}, "encoding": {"x": {"datum": 42.05}, "y": {"datum": 18.48}, "text": {"value": "TRZ"}}}
              ]
            },
            {
              "width": 1112, "height": 340,
              "title": "Chromatogram View",
              "layer": [
                {
                  "data": {"name": "b"},
                  "mark": {"type": "line", "strokeWidth": 1.2, "clip": true},
                  "encoding": {
                    "x": {"field": "t", "type": "quantitative", "scale": {"domain": [0, 50], "nice": false}, "axis": {"title": "Retention Time Minutes", "labelOverlap": false, "values": [0,1,2,3,4,5,6,7,8,9,10,11,12,13,14,15,16,17,18,19,20,21,22,23,24,25,26,27,28,29,30,31,32,33,34,35,36,37,38,39,40,41,42,43,44,45,46,47,48,49,50], "labelExpr": "datum.value % 10 == 0 ? datum.label : ''"}},
                    "y": {"field": "v", "type": "quantitative", "scale": {"domain": [10, 14], "nice": false, "zero": false}, "axis": {"title": "Response mV", "labelOverlap": false, "values": [10,10.2,10.4,10.6,10.8,11,11.2,11.4,11.6,11.8,12,12.2,12.4,12.6,12.8,13,13.2,13.4,13.6,13.8,14], "labelExpr": "datum.value == 10 || datum.value == 14 ? datum.label : ''"}},
                    "color": {"field": "s", "type": "nominal", "scale": {"domain": ["Start-Up", "10 Hours", "15 Hours", "20 Hours"], "range": ["#1F1FE6", "#1A1A5E", "#7F1F7F", "#1E7E1E"]},
                      "legend": {"legendX": 1070, "legendY": 20.6, "labelFontSize": 24, "rowPadding": 9,
                        "labelColor": {"expr": "['#0070C0','#0D1B4F','#8B1A8B','#1E7E1E'][indexof(['Start-Up','10 Hours','15 Hours','20 Hours'], datum.value)]"}}}
                  }
                },
                {"data": {"values": [{}]}, "mark": {"type": "text", "fontSize": 64, "align": "center"}, "encoding": {"x": {"datum": 3.15}, "y": {"datum": 13.12}, "text": {"value": "b"}}},
                {"data": {"values": [{}]}, "mark": {"type": "text", "fontSize": 30, "align": "left"}, "encoding": {"x": {"datum": 5.67}, "y": {"datum": 13.45}, "text": {"value": "Polymer 2"}}},
                {"data": {"values": [{}]}, "mark": {"type": "text", "fontSize": 30, "align": "left"}, "encoding": {"x": {"datum": 5.67}, "y": {"datum": 12.96}, "text": {"value": "LS"}}},
                {"data": {"values": [{}]}, "mark": {"type": "text", "fontSize": 30, "align": "right"}, "encoding": {"x": {"datum": 42.18}, "y": {"datum": 13.48}, "text": {"value": "Mist"}}}
              ]
            }
          ]
        },
        {
          "width": 1111, "height": 341,
          "title": "Chromatogram View",
          "layer": [
            {
              "data": {"name": "c"},
              "mark": {"type": "line", "strokeWidth": 1.2, "clip": true},
              "encoding": {
                "x": {"field": "t", "type": "quantitative", "scale": {"domain": [0, 50], "nice": false}, "axis": {"title": "Retention Time Minutes", "labelOverlap": false, "values": [0,1,2,3,4,5,6,7,8,9,10,11,12,13,14,15,16,17,18,19,20,21,22,23,24,25,26,27,28,29,30,31,32,33,34,35,36,37,38,39,40,41,42,43,44,45,46,47,48,49,50], "labelExpr": "datum.value % 10 == 0 ? datum.label : ''"}},
                "y": {"field": "v", "type": "quantitative", "scale": {"domain": [9, 19], "nice": false, "zero": false}, "axis": {"title": "Response mV", "labelOverlap": false, "values": [9,9.5,10,10.5,11,11.5,12,12.5,13,13.5,14,14.5,15,15.5,16,16.5,17,17.5,18,18.5,19], "labelExpr": "datum.value == 9 || datum.value == 19 ? datum.label : ''"}},
                "color": {"field": "s", "type": "nominal", "scale": {"domain": ["10 Hours", "15 Hours", "20 Hours"], "range": ["#1E8278", "#1F1FE0", "#FF00FF"]},
                  "legend": {"legendX": 1070, "legendY": 20.6, "labelFontSize": 24, "rowPadding": 9,
                    "labelColor": {"expr": "['#3A9A5A','#0070C0','#FF00FF'][indexof(['10 Hours','15 Hours','20 Hours'], datum.value)]"}}}
              }
            },
            {"data": {"values": [{}]}, "mark": {"type": "text", "fontSize": 64, "align": "center"}, "encoding": {"x": {"datum": 2.97}, "y": {"datum": 16.74}, "text": {"value": "c"}}},
            {"data": {"values": [{}]}, "mark": {"type": "text", "fontSize": 30, "align": "left"}, "encoding": {"x": {"datum": 5.49}, "y": {"datum": 17.53}, "text": {"value": "Polymer 2"}}},
            {"data": {"values": [{}]}, "mark": {"type": "text", "fontSize": 30, "align": "left"}, "encoding": {"x": {"datum": 5.49}, "y": {"datum": 16.33}, "text": {"value": "LS"}}},
            {"data": {"values": [{}]}, "mark": {"type": "text", "fontSize": 30, "align": "right"}, "encoding": {"x": {"datum": 42.62}, "y": {"datum": 17.8}, "text": {"value": "Sump"}}}
          ]
        }
      ]
    },
    {
      "columns": 1,
      "align": "none",
      "spacing": 54,
      "resolve": {"scale": {"color": "independent"}, "legend": {"color": "independent"}},
      "concat": [
        {
          "width": 1142, "height": 349,
          "title": "Chromatogram View",
          "layer": [
            {
              "data": {"name": "ri"},
              "mark": {"type": "line", "strokeWidth": 1.2, "clip": true, "interpolate": "monotone"},
              "encoding": {
                "x": {"field": "t", "type": "quantitative", "scale": {"domain": [0, 50], "nice": false}, "axis": {"title": "Retention Time Minutes", "labelOverlap": false, "values": [0,1,2,3,4,5,6,7,8,9,10,11,12,13,14,15,16,17,18,19,20,21,22,23,24,25,26,27,28,29,30,31,32,33,34,35,36,37,38,39,40,41,42,43,44,45,46,47,48,49,50], "labelExpr": "datum.value % 10 == 0 ? datum.label : ''"}},
                "y": {"field": "v", "type": "quantitative", "scale": {"domain": [-200, 1300], "nice": false, "zero": false}, "axis": {"title": "Response mV", "labelOverlap": false, "values": [-200,-100,0,100,200,300,400,500,600,700,800,900,1000,1100,1200,1300,1300], "labelExpr": "datum.value == -200 || datum.value == 1300 ? datum.label : ''"}},
                "color": {"field": "s", "type": "nominal",
                  "scale": {"domain": ["Aerosol","TRZ Start-Up","Mist Start-Up","TRZ 10 Hours","Mist 10 Hours","Sump 10 Hours","TRZ 15 Hours","Mist 15 Hours","Sump 15 Hours","TRZ 20 Hours","Mist 20 Hours","Sump 20 Hours"],
                    "range": ["#1E8C1E","#C0392B","#1F5FD8","#FF00FF","#1A1F6E","#2E9A6E","#1EA8E8","#8B1A8B","#3A5AB8","#D03020","#13801A","#0D1B4F"]},
                  "legend": {"legendX": 1179, "legendY": 16.5, "labelFontSize": 19, "rowPadding": 6,
                    "labelColor": {"expr": "['#138A13','#C00000','#0070C0','#FF00FF','#0D1B4F','#3A9A5A','#00B0F0','#8B1A8B','#1F78C8','#C00000','#138A13','#0D1B4F'][indexof(['Aerosol','TRZ Start-Up','Mist Start-Up','TRZ 10 Hours','Mist 10 Hours','Sump 10 Hours','TRZ 15 Hours','Mist 15 Hours','Sump 15 Hours','TRZ 20 Hours','Mist 20 Hours','Sump 20 Hours'], datum.value)]"}}}
              }
            },
            {"data": {"values": [{}]}, "mark": {"type": "text", "fontSize": 64, "align": "center"}, "encoding": {"x": {"datum": 3.46}, "y": {"datum": 947}, "text": {"value": "d"}}},
            {"data": {"values": [{}]}, "mark": {"type": "text", "fontSize": 30, "align": "left"}, "encoding": {"x": {"datum": 6.02}, "y": {"datum": 1072}, "text": {"value": "Polymer 2"}}},
            {"data": {"values": [{}]}, "mark": {"type": "text", "fontSize": 30, "align": "left"}, "encoding": {"x": {"datum": 6.02}, "y": {"datum": 892}, "text": {"value": "RI"}}}
          ]
        },
        {
          "width": 1140, "height": 352,
          "title": {"text": "Chromatogram View", "offset": 0},
          "layer": [
            {
              "data": {"name": "ri"},
              "mark": {"type": "line", "strokeWidth": 1.2, "clip": true, "interpolate": "monotone"},
              "encoding": {
                "x": {"field": "t", "type": "quantitative", "scale": {"domain": [0, 50], "nice": false}, "axis": {"title": "Retention Time Minutes", "labelOverlap": false, "values": [0,1,2,3,4,5,6,7,8,9,10,11,12,13,14,15,16,17,18,19,20,21,22,23,24,25,26,27,28,29,30,31,32,33,34,35,36,37,38,39,40,41,42,43,44,45,46,47,48,49,50], "labelExpr": "datum.value % 10 == 0 ? datum.label : ''"}},
                "y": {"field": "v", "type": "quantitative", "scale": {"domain": [-75, 119], "nice": false, "zero": false}, "axis": {"title": "Response mV", "labelOverlap": false, "values": [-75,-65,-55,-45,-35,-25,-15,-5,5,15,25,35,45,55,65,75,85,95,105,115,115], "labelExpr": "datum.value == -75 || datum.value == 115 ? datum.label : ''"}},
                "color": {"field": "s", "type": "nominal",
                  "scale": {"domain": ["Aerosol","TRZ Start-Up","Mist Start-Up","TRZ 10 Hours","Mist 10 Hours","Sump 10 Hours","TRZ 15 Hours","Mist 15 Hours","Sump 15 Hours","TRZ 20 Hours","Mist 20 Hours","Sump 20 Hours"],
                    "range": ["#1E8C1E","#C0392B","#1F5FD8","#FF00FF","#1A1F6E","#2E9A6E","#1EA8E8","#8B1A8B","#3A5AB8","#D03020","#13801A","#0D1B4F"]},
                  "legend": {"legendX": 1169, "legendY": 15, "labelFontSize": 19, "rowPadding": 5.8,
                    "labelColor": {"expr": "['#138A13','#C00000','#0070C0','#FF00FF','#0D1B4F','#3A9A5A','#00B0F0','#8B1A8B','#1F78C8','#C00000','#138A13','#0D1B4F'][indexof(['Aerosol','TRZ Start-Up','Mist Start-Up','TRZ 10 Hours','Mist 10 Hours','Sump 10 Hours','TRZ 15 Hours','Mist 15 Hours','Sump 15 Hours','TRZ 20 Hours','Mist 20 Hours','Sump 20 Hours'], datum.value)]"}}}
              }
            },
            {"data": {"values": [{}]}, "mark": {"type": "text", "fontSize": 64, "align": "center"}, "encoding": {"x": {"datum": 3.73}, "y": {"datum": 72}, "text": {"value": "e"}}},
            {"data": {"values": [{}]}, "mark": {"type": "text", "fontSize": 30, "align": "left"}, "encoding": {"x": {"datum": 6.25}, "y": {"datum": 87.5}, "text": {"value": "Polymer 2"}}},
            {"data": {"values": [{}]}, "mark": {"type": "text", "fontSize": 30, "align": "left"}, "encoding": {"x": {"datum": 6.25}, "y": {"datum": 64.3}, "text": {"value": "RI"}}}
          ]
        }
      ]
    }
  ]
}
